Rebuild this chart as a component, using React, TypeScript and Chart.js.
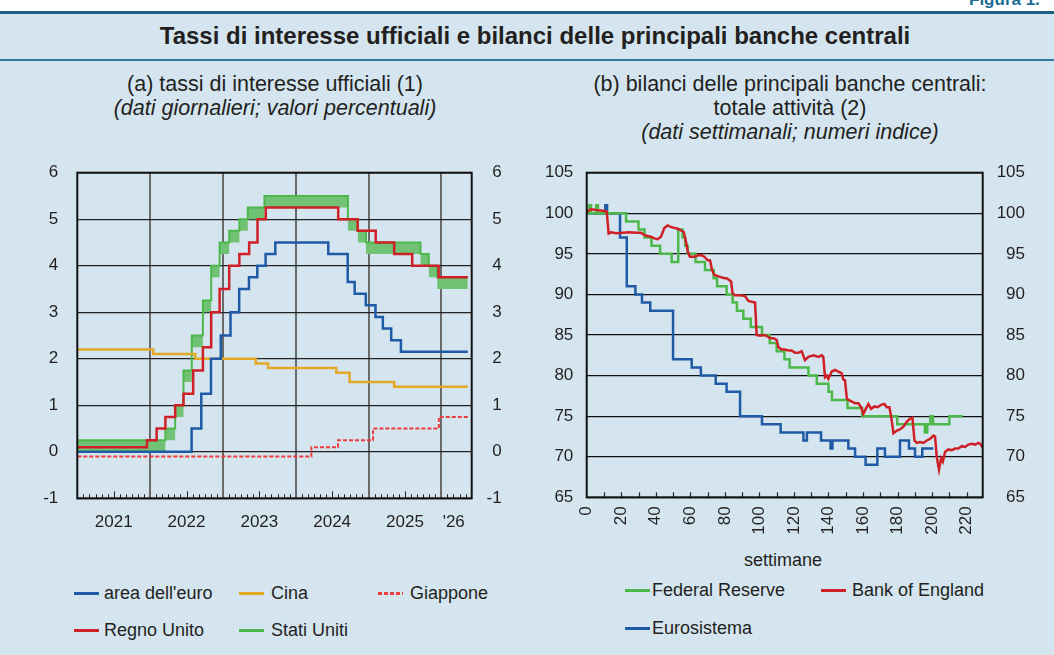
import React, { useEffect, useRef } from "react";
import { Chart, registerables } from "chart.js";
Chart.register(...registerables);

const FONT = '"Liberation Sans", Arial, Helvetica, sans-serif';
const TEXT = "#231f20";
const BLUE = "#1f5aa6";
const RED = "#cf2027";
const GREEN = "#4db84a";
const BAND = "#72c275";
const GOLD = "#e2a826";
const JP = "#ee3b3b";

// ---------- panel (a): official interest rates (change dates) ----------
const yearLabelPos = [2021.5, 2022.5, 2023.5, 2024.5, 2025.5, 2026.17];
const yearLabels = ["2021", "2022", "2023", "2024", "2025", "'26"];
const yearGrid = [2022, 2023, 2024, 2025, 2026];
const rateTicks = [-1, 0, 1, 2, 3, 4, 5, 6];

const euroDates = ["2021-01-01", "2022-07-27", "2022-09-14", "2022-11-02", "2022-12-21", "2023-02-08", "2023-03-22", "2023-05-10", "2023-06-21", "2023-08-02", "2023-09-20", "2024-06-12", "2024-09-18", "2024-10-23", "2024-12-18", "2025-02-05", "2025-03-12", "2025-04-23", "2025-06-11", "2026-05-12"];
const euroRates = [0, 0.5, 1.25, 2, 2.5, 3, 3.5, 3.75, 4, 4.25, 4.5, 4.25, 3.65, 3.4, 3.15, 2.9, 2.65, 2.4, 2.15, 2.15];

const ukDates = ["2021-01-01", "2021-12-16", "2022-02-03", "2022-03-17", "2022-05-05", "2022-06-16", "2022-08-04", "2022-09-22", "2022-11-03", "2022-12-15", "2023-02-02", "2023-03-23", "2023-05-11", "2023-06-22", "2023-08-03", "2024-08-01", "2024-11-07", "2025-02-06", "2025-05-08", "2025-08-07", "2025-12-18", "2026-05-12"];
const ukRates = [0.1, 0.25, 0.5, 0.75, 1, 1.25, 1.75, 2.25, 3, 3.5, 4, 4.25, 4.5, 5, 5.25, 5, 4.75, 4.5, 4.25, 4, 3.75, 3.75];

const usDates = ["2021-01-01", "2022-03-17", "2022-05-05", "2022-06-16", "2022-07-28", "2022-09-22", "2022-11-03", "2022-12-15", "2023-02-02", "2023-03-23", "2023-05-04", "2023-07-27", "2024-09-19", "2024-11-08", "2024-12-19", "2025-09-18", "2025-10-30", "2025-12-11", "2026-05-12"];
const usLower = [0, 0.25, 0.75, 1.5, 2.25, 3, 3.75, 4.25, 4.5, 4.75, 5, 5.25, 4.75, 4.5, 4.25, 4, 3.75, 3.5, 3.5];
const usUpper = [0.25, 0.5, 1, 1.75, 2.5, 3.25, 4, 4.5, 4.75, 5, 5.25, 5.5, 5, 4.75, 4.5, 4.25, 4, 3.75, 3.75];

const cnDates = ["2021-01-01", "2022-01-17", "2022-08-15", "2023-06-13", "2023-08-15", "2024-07-22", "2024-09-27", "2025-05-08", "2026-05-12"];
const cnRates = [2.2, 2.1, 2.0, 1.9, 1.8, 1.7, 1.5, 1.4, 1.4];

const jpDates = ["2021-01-01", "2024-03-19", "2024-07-31", "2025-01-24", "2025-12-19", "2026-05-12"];
const jpRates = [-0.1, 0.1, 0.25, 0.5, 0.75, 0.75];

// ---------- panel (b): balance sheets, weekly index ----------
const weekTicks = [0, 20, 40, 60, 80, 100, 120, 140, 160, 180, 200, 220];
const indexTicks = [65, 70, 75, 80, 85, 90, 95, 100, 105];

const fedWeeks = [0, 1.5, 2.5, 5.5, 6.5, 22.8, 30, 33.5, 37.5, 42.5, 49.2, 53, 55.5, 57, 58.5, 63, 68.5, 73.5, 75.5, 81, 84.5, 87, 90.7, 95, 101.5, 106, 110, 114.5, 117.5, 128.4, 133.2, 140, 142, 151, 159.5, 179.8, 195.8, 197.2, 199, 200.5, 210, 217.7];
const fedIndex = [100, 101, 100, 101, 100, 99, 98, 97, 96, 95, 94, 98, 97, 96, 95, 94, 93, 92, 91, 90, 89, 88, 87, 86, 85, 84, 83, 82, 81, 80, 79, 78, 77, 76, 75, 74, 73, 74, 75, 74, 75, 75];

const boeWeeks = [0, 0.6, 2.5, 5.4, 9.3, 11.6, 12.7, 14.1, 17, 20.8, 24.7, 28.6, 31.5, 33.4, 35.3, 37.2, 39.2, 41.1, 43, 45, 46.9, 48.8, 50.8, 52.7, 54.6, 56.2, 57.5, 58.5, 59.8, 62.3, 64.3, 66.2, 68.1, 70.1, 71.4, 72.6, 73.9, 76.8, 79.7, 81.1, 83.6, 84.5, 85.9, 88.8, 91.7, 93.6, 95.5, 97.5, 98.4, 100.4, 102.3, 104.2, 106.2, 108.1, 110, 111, 112.9, 114.8, 116.8, 118.7, 120.6, 122.6, 124.5, 126.4, 128.4, 131.3, 134.1, 136.1, 137, 138, 139, 139.9, 141.9, 143.8, 145.7, 147.6, 148.6, 149.6, 150.6, 151.6, 153.5, 155.4, 157.3, 158.9, 160.2, 161.6, 163.1, 164.7, 166.6, 168.5, 170.4, 172.4, 173.7, 175.3, 176.6, 177.6, 179.5, 181.5, 183.4, 185.3, 187.2, 188.6, 189.8, 191.1, 193, 195, 196.9, 198.8, 200.8, 201.7, 202.7, 204, 205.2, 206.2, 207.5, 209.4, 211.4, 213.3, 215.2, 217.2, 219.1, 221, 223, 224.9, 226.8, 227.8, 229.1, 229.7];
const boeIndex = [100, 100.3, 100.5, 100.4, 100.3, 100.2, 97.5, 97.65, 97.55, 97.6, 97.65, 97.6, 97.6, 97.3, 97.2, 97.1, 96.9, 96.8, 97.1, 98.2, 98.5, 98.3, 98.2, 98.1, 97.9, 97.7, 96.5, 95.3, 94.65, 94.65, 94.8, 94.85, 94.65, 94.2, 94.2, 93.0, 92.4, 92.2, 92.0, 92.0, 91.6, 90.1, 89.9, 89.9, 89.8, 89.2, 89.1, 89.0, 85.0, 84.9, 85.0, 84.9, 84.6, 84.6, 84.4, 83.5, 83.2, 83.2, 83.1, 83.1, 82.8, 82.8, 83.0, 81.9, 82.3, 82.5, 82.3, 82.5, 82.3, 79.8, 80.0, 79.6, 80.5, 80.7, 80.5, 80.3, 79.5, 79.4, 77.2, 77.0, 76.8, 76.6, 76.6, 76.1, 75.3, 75.9, 76.5, 75.9, 76.2, 76.1, 76.4, 76.5, 76.1, 76.1, 74.5, 72.9, 73.2, 73.4, 73.7, 74.3, 74.7, 74.8, 72.0, 71.7, 71.8, 71.7, 72.0, 72.2, 72.6, 72.5, 70.0, 68.4, 69.8, 69.4, 70.6, 70.9, 70.8, 71.0, 71.0, 71.3, 71.2, 71.5, 71.6, 71.5, 71.7, 71.6, 71.2, 71.0];

const ecbWeeks = [0, 10.8, 11.8, 19.3, 23.2, 28.2, 32, 36.8, 50, 60.8, 66.1, 74.7, 81, 88.8, 101.5, 112.3, 125.5, 127.5, 135.7, 141.2, 142.3, 151.5, 155.4, 161.5, 168.3, 172.7, 181.4, 186.6, 190.1, 194.3, 200.7];
const ecbIndex = [100, 101, 100, 97, 91, 90, 89, 88, 82, 81, 80, 79, 78, 75, 74, 73, 72, 73, 72, 71, 72, 71, 70, 69, 71, 70, 72, 71, 70, 71, 71];

// ---------- helpers ----------
function toYear(d: string): number {
  const [y, m, day] = d.split("-").map(Number);
  const dim = new Date(y, m, 0).getDate();
  return y + (m - 1 + (day - 1) / dim) / 12;
}
function datePts(dates: string[], vals: number[]) {
  return dates.map((d, i) => ({ x: toYear(d), y: vals[i] }));
}
function weekPts(weeks: number[], vals: number[]) {
  return weeks.map((w, i) => ({ x: w, y: vals[i] }));
}

function fixSize(opts: { width?: number; height?: number }) {
  return (s: any) => {
    if (opts.width !== undefined) s.width = opts.width;
    if (opts.height !== undefined) s.height = opts.height;
    s.paddingTop = 0;
    s.paddingBottom = 0;
    s.paddingLeft = 0;
    s.paddingRight = 0;
  };
}

const framePlugin = {
  id: "frame",
  afterDatasetsDraw(chart: any) {
    const { ctx, chartArea } = chart;
    ctx.save();
    ctx.strokeStyle = "#111";
    ctx.lineWidth = 2;
    ctx.strokeRect(chartArea.left, chartArea.top, chartArea.right - chartArea.left, chartArea.bottom - chartArea.top);
    ctx.restore();
  },
};

const monthTickPlugin = {
  id: "monthTicks",
  afterDatasetsDraw(chart: any) {
    const xs = chart.scales.x;
    const { ctx, chartArea } = chart;
    ctx.save();
    ctx.strokeStyle = "#222";
    ctx.lineWidth = 1;
    for (let y = 2021; y <= 2026; y++) {
      for (let m = 1; m < 12; m++) {
        const v = y + m / 12;
        if (v >= xs.max) continue;
        const px = Math.round(xs.getPixelForValue(v)) + 0.5;
        const len = m === 6 ? 7 : 4;
        ctx.beginPath();
        ctx.moveTo(px, chartArea.bottom);
        ctx.lineTo(px, chartArea.bottom - len);
        ctx.stroke();
      }
    }
    ctx.restore();
  },
};

const weekTickPlugin = {
  id: "weekTicks",
  afterDatasetsDraw(chart: any) {
    const xs = chart.scales.x;
    const { ctx, chartArea } = chart;
    ctx.save();
    ctx.strokeStyle = "#222";
    ctx.lineWidth = 1.2;
    for (let w = 10; w < xs.max; w += 10) {
      const px = Math.round(xs.getPixelForValue(w)) + 0.5;
      ctx.beginPath();
      ctx.moveTo(px, chartArea.bottom);
      ctx.lineTo(px, chartArea.bottom - 5);
      ctx.stroke();
    }
    ctx.restore();
  },
};

const tickFont = { family: FONT, size: 17 };

function leftConfig(): any {
  const line = (label: string, data: any[], color: string, extra: any = {}) => ({
    label, data, borderColor: color, backgroundColor: color, borderWidth: 2.5,
    pointRadius: 0, stepped: true, fill: false, ...extra,
  });
  const xMax = 2026 + 5 / 12;
  return {
    type: "line",
    data: {
      datasets: [
        line("Regno Unito", datePts(ukDates, ukRates), RED),
        line("area dell'euro", datePts(euroDates, euroRates), BLUE),
        line("Giappone", datePts(jpDates, jpRates), JP, { borderDash: [4, 2], borderWidth: 2 }),
        line("Cina", datePts(cnDates, cnRates), GOLD),
        line("Stati Uniti", datePts(usDates, usUpper), GREEN, { fill: "+1", backgroundColor: BAND, borderWidth: 2 }),
        line("Stati Uniti (min)", datePts(usDates, usLower), "rgba(0,0,0,0)", { borderWidth: 0 }),
      ],
    },
    options: {
      animation: false,
      responsive: false,
      layout: { padding: { top: 12.7, right: 28.3, left: 0, bottom: 0 } },
      plugins: { legend: { display: false }, tooltip: { enabled: false } },
      scales: {
        x: {
          type: "linear", position: "bottom", min: 2021, max: xMax,
          afterBuildTicks: (s: any) => { s.ticks = yearLabelPos.map((v) => ({ value: v })); },
          ticks: { callback: (_v: any, i: number) => yearLabels[i], font: tickFont, color: TEXT, padding: 14, maxRotation: 0, minRotation: 0, autoSkip: false },
          grid: { display: false, drawTicks: false },
          border: { display: false },
          afterFit: fixSize({ height: 41.7 }),
        },
        xg: {
          type: "linear", position: "top", min: 2021, max: xMax,
          afterBuildTicks: (s: any) => { s.ticks = yearGrid.map((v) => ({ value: v })); },
          ticks: { display: false },
          grid: { color: "#6a6a6a", lineWidth: 2, drawTicks: false },
          border: { display: false },
          afterFit: fixSize({ height: 0 }),
        },
        y: {
          position: "left", min: -1, max: 6,
          afterBuildTicks: (s: any) => { s.ticks = rateTicks.map((v) => ({ value: v })); },
          ticks: { font: tickFont, color: TEXT, padding: 19 },
          grid: { color: "#222", lineWidth: 1.3, drawTicks: false },
          border: { display: false },
          afterFit: fixSize({ width: 77.3 }),
        },
        y2: {
          position: "right", min: -1, max: 6,
          afterBuildTicks: (s: any) => { s.ticks = rateTicks.map((v) => ({ value: v })); },
          ticks: { font: tickFont, color: TEXT, crossAlign: "far" },
          grid: { display: false, drawTicks: false },
          border: { display: false },
          afterFit: fixSize({ width: 30 }),
        },
      },
    },
    plugins: [monthTickPlugin, framePlugin],
  };
}

function rightConfig(): any {
  const line = (label: string, data: any[], color: string, extra: any = {}) => ({
    label, data, borderColor: color, backgroundColor: color, borderWidth: 2.5,
    pointRadius: 0, fill: false, ...extra,
  });
  return {
    type: "line",
    data: {
      datasets: [
        line("Bank of England", weekPts(boeWeeks, boeIndex), RED),
        line("Federal Reserve", weekPts(fedWeeks, fedIndex), GREEN, { stepped: true }),
        line("Eurosistema", weekPts(ecbWeeks, ecbIndex), BLUE, { stepped: true }),
      ],
    },
    options: {
      animation: false,
      responsive: false,
      layout: { padding: { top: 12.7, right: 29, left: 0, bottom: 0 } },
      plugins: { legend: { display: false }, tooltip: { enabled: false } },
      scales: {
        x: {
          type: "linear", position: "bottom", min: 0, max: 229.3,
          afterBuildTicks: (s: any) => { s.ticks = weekTicks.map((v) => ({ value: v })); },
          ticks: { font: tickFont, color: TEXT, padding: 9, minRotation: 90, maxRotation: 90, autoSkip: false },
          grid: { display: false, drawTicks: false },
          border: { display: false },
          afterFit: fixSize({ height: 52.7 }),
        },
        y: {
          position: "left", min: 65, max: 105,
          afterBuildTicks: (s: any) => { s.ticks = indexTicks.map((v) => ({ value: v })); },
          ticks: { font: tickFont, color: TEXT, padding: 13.4 },
          grid: { color: "#111", lineWidth: 1.3, drawTicks: false },
          border: { display: false },
          afterFit: fixSize({ width: 56.7 }),
        },
        y2: {
          position: "right", min: 65, max: 105,
          afterBuildTicks: (s: any) => { s.ticks = indexTicks.map((v) => ({ value: v })); },
          ticks: { font: tickFont, color: TEXT, crossAlign: "far" },
          grid: { display: false, drawTicks: false },
          border: { display: false },
          afterFit: fixSize({ width: 42.3 }),
        },
      },
    },
    plugins: [weekTickPlugin, framePlugin],
  };
}

type LegendItem = { label: string; color: string; x: number; tx: number; y: number; dashed?: boolean };
const legendItems: LegendItem[] = [
  { label: "area dell'euro", color: BLUE, x: 74, tx: 104, y: 593 },
  { label: "Cina", color: GOLD, x: 239, tx: 271, y: 593 },
  { label: "Giappone", color: JP, x: 378, tx: 410, y: 593, dashed: true },
  { label: "Regno Unito", color: RED, x: 74, tx: 104, y: 630 },
  { label: "Stati Uniti", color: GREEN, x: 239, tx: 271, y: 630 },
  { label: "Federal Reserve", color: GREEN, x: 625, tx: 652, y: 590 },
  { label: "Bank of England", color: RED, x: 821, tx: 852, y: 590 },
  { label: "Eurosistema", color: BLUE, x: 625, tx: 652, y: 628 },
];

export default function App() {
  const leftRef = useRef<HTMLCanvasElement>(null);
  const rightRef = useRef<HTMLCanvasElement>(null);

  useEffect(() => {
    Chart.defaults.font.family = FONT;
    Chart.defaults.color = TEXT;
    const c1 = new Chart(leftRef.current as HTMLCanvasElement, leftConfig());
    const c2 = new Chart(rightRef.current as HTMLCanvasElement, rightConfig());
    return () => { c1.destroy(); c2.destroy(); };
  }, []);

  const abs = (s: React.CSSProperties): React.CSSProperties => ({ position: "absolute", ...s });

  return (
    <div style={abs({ left: 0, top: 0, width: 1054, height: 655, overflow: "hidden", background: "#ffffff", fontFamily: FONT, color: TEXT })}>
      <div style={abs({ left: 969, top: -9, fontSize: 17, lineHeight: "17px", fontWeight: "bold", color: "#1b6d96", whiteSpace: "nowrap" })}>Figura 1.</div>
      <div style={abs({ left: 0, top: 14, width: 1054, height: 641, background: "#d4e5ef" })} />
      <div style={abs({ left: 0, top: 11, width: 1054, height: 3, background: "#1c5e86" })} />
      <div style={abs({ left: 0, top: 59, width: 1054, height: 2, background: "#2f76a0" })} />
      <div style={abs({ left: 0, top: 24, width: 1070, height: 24, lineHeight: "24px", fontSize: 24, fontWeight: "bold", textAlign: "center", whiteSpace: "nowrap" })}>
        Tassi di interesse ufficiali e bilanci delle principali banche centrali
      </div>
      <div style={abs({ left: 25, top: 72, width: 500, fontSize: 21.5, lineHeight: "24px", textAlign: "center", whiteSpace: "nowrap" })}>
        <div>(a) tassi di interesse ufficiali (1)</div>
        <div style={{ fontStyle: "italic" }}>(dati giornalieri; valori percentuali)</div>
      </div>
      <div style={abs({ left: 540, top: 72, width: 500, fontSize: 21.5, lineHeight: "24px", textAlign: "center", whiteSpace: "nowrap" })}>
        <div>(b) bilanci delle principali banche centrali:</div>
        <div>totale attività (2)</div>
        <div style={{ fontStyle: "italic" }}>(dati settimanali; numeri indice)</div>
      </div>
      <canvas ref={leftRef} width={530} height={380} style={abs({ left: 0, top: 160, width: 530, height: 380 })} />
      <canvas ref={rightRef} width={524} height={390} style={abs({ left: 530, top: 160, width: 524, height: 390 })} />
      <div style={abs({ left: 683, top: 550, width: 200, fontSize: 18, lineHeight: "20px", textAlign: "center" })}>settimane</div>
      {legendItems.map((it) => (
        <React.Fragment key={it.label}>
          <div
            style={abs({
              left: it.x, top: it.y - 1.5, width: 25, height: 3,
              background: it.dashed ? `repeating-linear-gradient(to right, ${it.color} 0 4px, transparent 4px 6px)` : it.color,
            })}
          />
          <div style={abs({ left: it.tx, top: it.y - 11, fontSize: 18, lineHeight: "22px", whiteSpace: "nowrap" })}>{it.label}</div>
        </React.Fragment>
      ))}
    </div>
  );
}
